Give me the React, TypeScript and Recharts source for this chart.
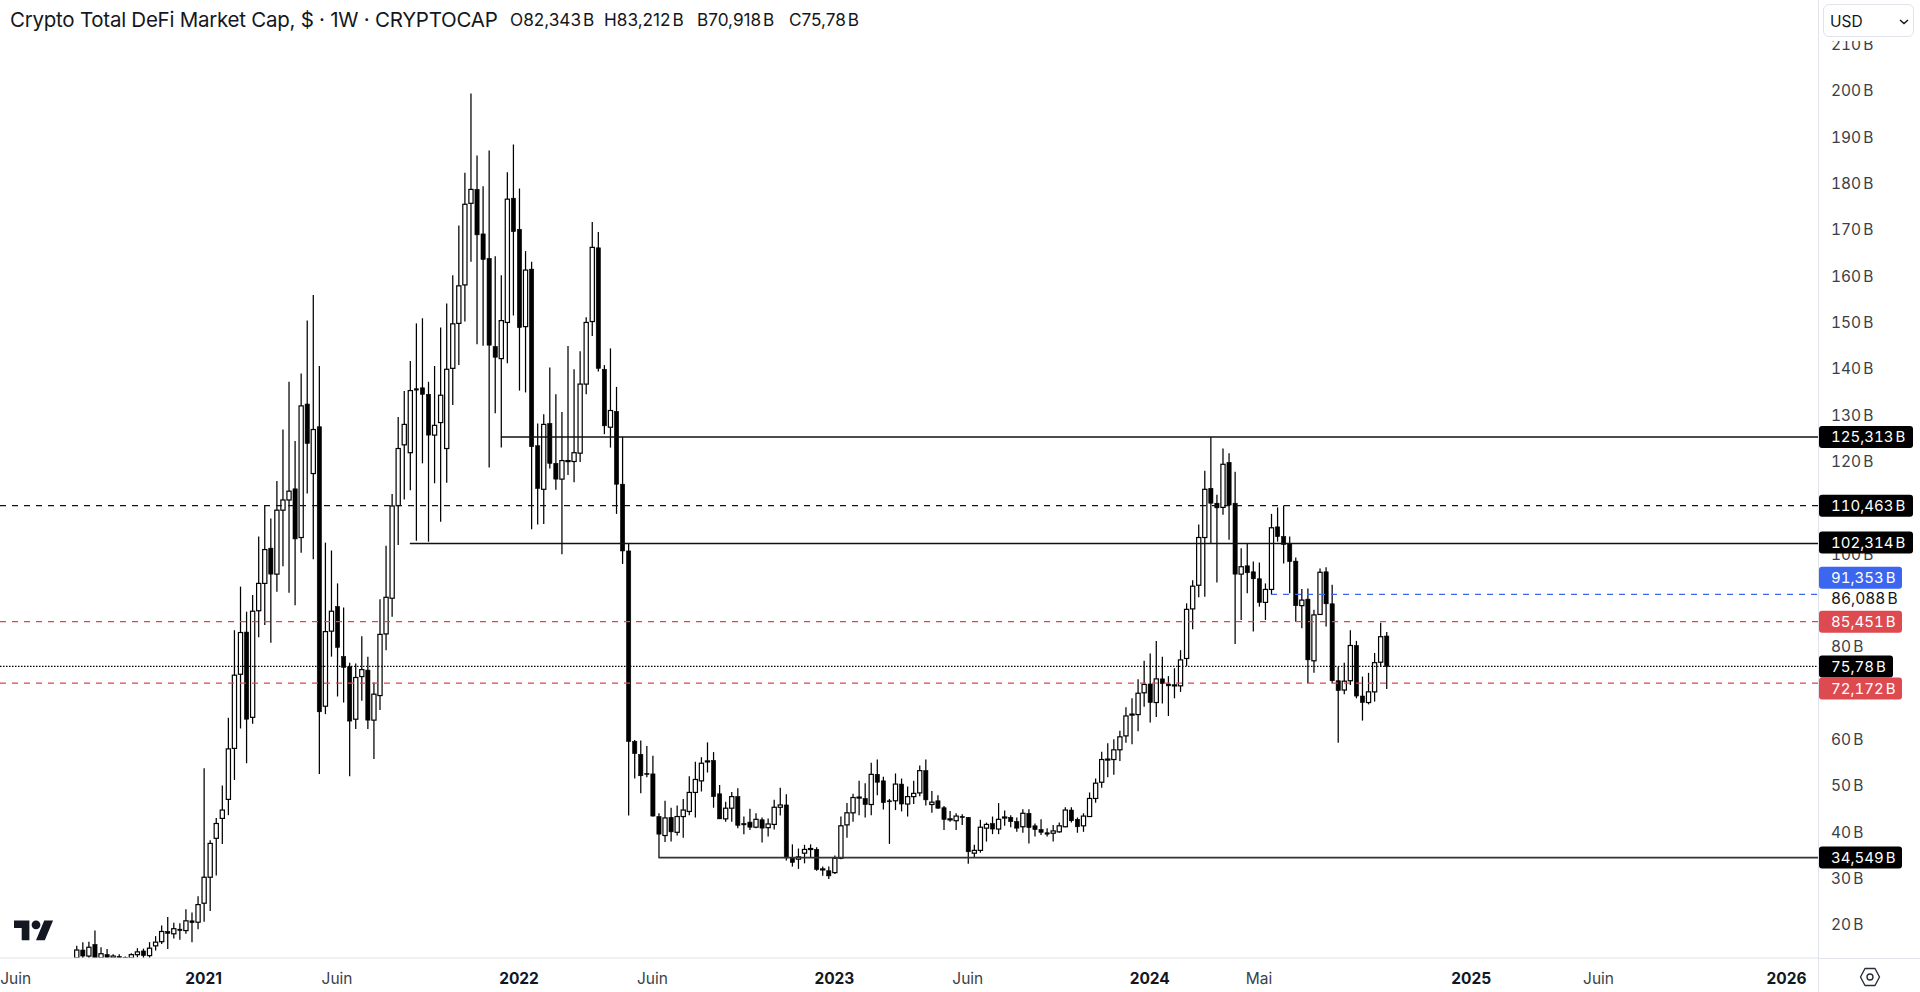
import { Bar, ComposedChart, ReferenceLine, XAxis, YAxis } from "recharts";

// weekly candles in billions of USD
const opens = [
  12.9,14.6,13.3,15.8,12.9,13.6,12.9,13.2,13.0,12.9,
  13.6,14.4,13.4,15.5,16.4,18.6,18.1,19.1,18.8,20.9,
  20.6,24.7,30.3,38.7,43.0,47.1,58.1,74.1,83.2,64.8,
  87.8,93.7,101.3,95.7,109.5,111.7,114.1,103.6,132.4,117.4,
  127.5,67.2,83.4,88.7,77.9,75.7,64.4,73.6,75.0,64.2,
  69.5,82.8,90.5,110.5,123.6,121.9,135.7,135.9,134.5,125.7,
  128.4,122.8,140.1,149.8,158.1,175.7,178.7,169.1,163.8,144.8,
  142.2,150.0,176.8,170.1,149.1,161.5,123.4,114.0,128.2,119.6,
  116.2,120.0,120.0,121.8,136.7,150.2,166.1,139.9,127.4,130.8,
  115.1,100.7,59.6,56.8,52.7,52.6,43.4,39.3,43.2,40.0,
  43.4,44.5,48.6,51.1,55.3,55.5,48.3,42.9,45.2,47.7,
  41.9,42.2,41.1,42.7,41.0,41.7,45.4,45.9,34.5,34.2,
  35.5,36.4,36.3,32.0,31.7,31.3,34.4,41.6,44.2,47.5,
  47.3,46.0,52.5,51.1,46.8,46.8,50.4,46.1,47.7,48.5,
  53.3,46.0,46.8,45.3,42.8,42.5,43.4,43.2,35.5,36.1,
  40.9,41.9,40.7,43.2,43.2,42.3,41.2,44.1,41.4,40.6,
  39.9,39.8,40.1,41.2,44.8,42.8,41.4,43.4,47.3,50.8,
  55.7,55.7,57.8,60.8,65.4,65.4,70.1,72.0,68.0,73.1,
  72.0,71.8,71.6,77.5,88.2,93.3,103.6,114.2,111.0,110.1,
  119.8,111.0,95.7,97.5,96.2,94.7,89.6,92.4,105.9,103.8,
  102.2,98.5,88.9,90.3,77.0,87.0,96.2,89.3,72.7,70.7,
  72.7,80.3,69.4,68.0,70.3,76.7,82.343,
];
const highs = [
  15.5,16.3,16.4,18.8,15.2,14.8,13.7,13.7,13.2,13.9,
  15.0,14.9,16.3,17.6,19.9,21.7,20.5,20.4,23.4,22.7,
  26.2,53.8,38.3,43.1,50.1,64.7,83.6,93.0,87.6,91.2,
  103.8,110.5,107.7,115.8,126.9,137.2,124.4,139.0,150.4,155.9,
  140.6,102.5,100.8,93.7,88.5,76.6,76.4,82.3,77.9,72.3,
  90.3,101.8,113.0,129.6,135.2,141.7,149.8,150.9,137.2,140.6,
  148.9,154.1,160.2,170.9,182.3,199.4,186.0,179.4,187.1,164.3,
  160.2,182.4,188.4,178.9,165.4,163.1,128.2,130.2,140.3,134.5,
  130.7,144.9,139.9,143.8,151.1,171.7,169.5,140.8,144.4,136.1,
  125.3,102.3,59.9,59.8,58.6,56.5,44.1,46.8,45.3,45.8,
  47.2,52.1,55.2,56.2,59.4,57.3,50.2,46.6,48.7,49.5,
  43.4,45.1,44.1,43.2,43.0,47.0,49.6,48.2,37.4,36.5,
  37.3,37.4,36.8,32.6,32.6,35.0,43.4,46.3,48.3,51.1,
  50.6,55.0,55.7,52.0,47.2,52.7,51.6,49.9,51.1,54.4,
  55.7,48.9,48.0,45.7,44.6,44.1,43.9,43.3,37.3,42.7,
  42.1,43.4,46.3,44.7,43.7,43.2,45.0,45.0,41.9,42.8,
  40.9,41.6,42.1,45.4,45.4,43.2,44.1,48.6,51.6,57.4,
  59.2,60.1,61.9,67.0,68.9,73.0,77.0,78.6,81.3,77.9,
  73.7,75.4,79.3,89.4,94.4,106.4,118.0,125.3,112.8,122.8,
  121.8,117.8,101.3,102.2,98.4,98.2,93.7,108.7,110.1,110.5,
  103.8,99.3,92.5,92.6,88.0,96.9,97.2,93.4,75.7,76.6,
  83.6,81.3,73.6,74.4,78.7,85.2,83.212,
];
const lows = [
  12.9,12.9,12.9,12.9,12.9,12.9,12.9,12.9,12.9,12.9,
  13.0,12.9,12.9,14.5,15.9,14.8,17.1,16.8,18.1,16.3,
  19.1,20.7,23.0,30.7,37.5,43.7,51.3,62.4,54.9,63.4,
  82.1,84.7,80.9,91.9,97.4,91.7,89.0,100.3,113.1,98.9,
  52.6,65.5,77.9,69.3,68.0,52.1,62.3,68.4,62.3,55.8,
  66.4,79.3,86.5,102.0,111.8,113.8,102.9,119.6,102.7,115.3,
  107.0,115.4,132.2,140.8,150.2,163.1,145.3,145.0,118.7,130.4,
  123.0,141.2,151.5,135.3,134.9,105.4,106.4,106.5,118.5,113.9,
  100.0,117.1,115.5,119.9,134.5,147.1,139.4,125.9,123.0,108.7,
  97.9,43.6,51.6,48.4,51.9,43.4,34.5,37.9,38.0,39.3,
  38.8,43.7,43.2,48.8,52.9,45.3,42.9,42.3,42.3,40.9,
  39.6,40.5,40.9,37.8,39.1,40.6,43.6,33.9,32.6,32.1,
  33.3,34.5,31.7,30.6,29.9,31.0,34.2,38.8,42.3,43.7,
  43.2,43.7,48.0,44.9,37.5,44.8,44.5,43.4,46.1,47.8,
  45.8,44.2,45.1,40.5,42.3,40.5,41.6,33.2,34.6,35.6,
  38.0,39.6,39.6,41.4,41.1,40.1,39.9,37.6,39.1,39.4,
  39.1,38.0,39.9,41.1,42.1,39.9,40.1,43.4,46.4,49.6,
  51.9,52.4,55.4,59.3,59.0,61.8,67.1,63.7,64.9,67.8,
  65.1,68.9,70.3,75.9,83.8,90.7,90.8,102.2,93.9,108.5,
  103.1,80.6,85.8,91.6,83.3,88.7,85.8,91.2,102.7,98.0,
  91.6,85.4,84.0,72.1,74.4,86.9,84.4,72.1,59.3,69.8,
  71.8,68.9,64.1,67.6,68.2,75.7,70.918,
];
const closes = [
  14.6,13.3,15.2,12.9,13.8,13.0,13.3,12.9,12.95,13.6,
  14.2,13.4,15.0,16.3,18.6,18.2,19.2,18.8,20.9,20.5,
  24.4,30.3,37.6,41.9,44.8,58.0,73.9,83.1,64.4,87.7,
  93.7,101.0,95.7,109.5,111.7,113.6,103.3,132.0,123.9,126.9,
  66.0,83.3,87.7,79.9,75.6,64.0,73.4,75.1,64.2,69.8,
  82.7,90.7,110.4,122.8,128.0,135.3,135.4,134.5,125.7,127.8,
  134.3,139.9,149.7,157.9,175.5,178.7,168.9,163.6,145.1,142.5,
  150.4,176.6,169.6,148.9,161.3,123.2,114.2,128.0,119.6,116.2,
  120.2,120.2,121.9,136.7,150.0,166.2,140.1,127.7,131.0,115.1,
  100.7,59.6,57.0,52.2,52.5,43.5,39.6,43.1,40.1,43.4,
  44.8,48.6,51.4,54.9,55.4,47.7,42.9,45.2,47.7,41.5,
  41.6,41.1,42.8,40.9,41.8,45.4,45.9,34.5,33.5,34.7,
  36.3,36.5,32.0,32.1,30.6,34.4,41.4,44.2,47.5,47.6,
  46.0,52.5,50.8,46.4,46.7,50.4,46.1,47.7,48.4,53.3,
  47.0,46.5,45.2,42.8,42.9,43.5,43.3,35.8,36.1,41.1,
  41.7,40.7,42.8,43.3,42.3,40.9,44.1,41.0,40.6,40.0,
  39.6,40.3,41.4,44.8,42.5,41.2,43.5,47.3,50.6,55.7,
  55.8,57.8,60.6,65.1,65.5,70.0,71.9,68.0,73.1,72.1,
  71.6,71.8,77.2,88.1,93.1,103.6,114.0,111.0,110.0,119.4,
  110.6,95.7,97.3,96.0,94.7,89.6,92.4,105.7,103.8,102.1,
  98.4,88.9,90.1,77.2,86.9,96.1,89.3,72.7,70.6,72.6,
  80.3,69.4,68.0,70.3,76.6,82.2,75.78,
];

const weekTicks = [-10, 21, 43, 73, 95, 125, 147, 177, 195, 230, 251, 282];
const weekLabels = ["Juin", "2021", "Juin", "2022", "Juin", "2023", "Juin", "2024", "Mai", "2025", "Juin", "2026"];
const priceTicks = [20, 30, 40, 50, 60, 70, 80, 90, 100, 110, 120, 130, 140, 150, 160, 170, 180, 190, 200, 210];
const levels = [125.313, 110.463, 102.314, 91.353, 85.451, 75.78, 72.172, 34.549];
const levelLabels = ["125,313 B", "110,463 B", "102,314 B", "91,353 B", "85,451 B", "75,78 B", "72,172 B", "34,549 B"];
const levelStarts = [70, null, 55, 197, null, null, null, 96];
const hiddenTicks = [70, 90, 110]; // covered by tags in the picture
const quotedPrice = 86.088;
const quotedLabel = "86,088 B";
const ohlcLabels = ["O82,343 B", "H83,212 B", "B70,918 B", "C75,78 B"];

const WEEK_MIN = -12.58;
const WEEK_MAX = 287.27;
const PRICE_MIN = 12.88;
const PRICE_MAX = 219.57;
const PLOT_W = 1818.5;
const FONT = "Inter, 'Noto Sans', sans-serif";
const INK = "#131722";
const EDGE = "#e0e3eb";

const levelStyle: Record<number, { line: string; dash?: string; fill: string; w: number; dy: number; sw: number }> = {
  125.313: { line: "#111111", fill: "#000000", w: 94, dy: 0, sw: 1.5 },
  110.463: { line: "#111111", dash: "6 6", fill: "#000000", w: 94, dy: 0, sw: 1.3 },
  102.314: { line: "#111111", fill: "#000000", w: 94, dy: -1, sw: 1.5 },
  91.353: { line: "#3a66f0", dash: "6 6", fill: "#3a66f0", w: 83, dy: -16.6, sw: 1.3 },
  85.451: { line: "#d9484f", dash: "6 6", fill: "#dd4a50", w: 83, dy: 0, sw: 1.3 },
  75.78: { line: "#000000", dash: "1.5 1.5", fill: "#000000", w: 74, dy: 0, sw: 1.2 },
  72.172: { line: "#d9484f", dash: "6 6", fill: "#dd4a50", w: 83, dy: 5.3, sw: 1.3 },
  34.549: { line: "#333333", fill: "#000000", w: 83, dy: 0, sw: 1.7 },
};

const candles = opens.map((open, i) => ({
  week: i,
  open,
  high: highs[i],
  low: lows[i],
  close: closes[i],
}));

function Candle(props: any) {
  const { x, y, width, height, payload } = props;
  const top = Math.min(y, y + height);
  const span = Math.abs(height);
  const perUnit = span / (payload.high - payload.low);
  const cx = x + width / 2;
  const yOf = (v: number) => top + (payload.high - v) * perUnit;
  const up = payload.close >= payload.open;
  const bodyTop = yOf(Math.max(payload.open, payload.close));
  const bodyH = Math.max(1, yOf(Math.min(payload.open, payload.close)) - bodyTop);
  return (
    <g>
      <line x1={cx} x2={cx} y1={top} y2={top + span} stroke="#000000" strokeWidth={1.25} />
      <rect
        x={cx - 2.1}
        y={bodyTop}
        width={4.2}
        height={bodyH}
        fill={up ? "#ffffff" : "#000000"}
        stroke="#000000"
        strokeWidth={up ? 1.2 : 0.6}
      />
    </g>
  );
}

function PriceTick(props: any) {
  const { y, payload } = props;
  const value = payload.value;
  const tagAt = levels.indexOf(value);
  const textX = PLOT_W + 12.5;
  const textProps = {
    x: textX,
    fontFamily: FONT,
    fontSize: 15.5,
    dominantBaseline: "central" as const,
    style: { wordSpacing: "-2px", fontFeatureSettings: "'tnum'" },
  };
  if (tagAt >= 0) {
    const s = levelStyle[value];
    const cy = y + s.dy;
    return (
      <g>
        <rect x={PLOT_W + 0.5} y={cy - 11} width={s.w} height={22} rx={3} fill={s.fill} />
        <text {...textProps} fontSize={15} y={cy} fill="#ffffff">{levelLabels[tagAt]}</text>
      </g>
    );
  }
  if (value === quotedPrice) {
    return <text {...textProps} y={y - 19.7} fill={INK}>{quotedLabel}</text>;
  }
  return <text {...textProps} y={y} fill="#3b3f48">{value} B</text>;
}

function WeekTick(props: any) {
  const { x, payload } = props;
  const label = weekLabels[weekTicks.indexOf(payload.value)];
  const isYear = /^\d+$/.test(label);
  return (
    <text
      x={x}
      y={978}
      textAnchor="middle"
      dominantBaseline="central"
      fontFamily={FONT}
      fontSize={15.5}
      fontWeight={isYear ? 700 : 400}
      fill={isYear ? INK : "#3b3f48"}
    >
      {label}
    </text>
  );
}

function Overlay() {
  const ohlcX = [510, 604, 697, 789];
  return (
    <>
      <div style={{ position: "absolute", left: 10, top: 8, fontFamily: FONT, fontSize: 20.5, letterSpacing: -0.25, color: INK, whiteSpace: "nowrap", lineHeight: "24px" }}>
        Crypto Total DeFi Market Cap, $ · 1W · CRYPTOCAP
      </div>
      {ohlcLabels.map((t, i) => (
        <div key={t} style={{ position: "absolute", left: ohlcX[i], top: 10, fontFamily: FONT, fontSize: 17.2, color: INK, whiteSpace: "nowrap", lineHeight: "20px", wordSpacing: -3 }}>
          {t}
        </div>
      ))}
      {/* currency selector sits over the top of the price scale */}
      <div style={{ position: "absolute", left: 1819.5, top: 0, width: 100.5, height: 41, background: "#fff" }} />
      <div style={{ position: "absolute", left: 1823, top: 4, width: 91, height: 33, boxSizing: "border-box", border: `1px solid ${EDGE}`, borderRadius: 6, fontFamily: FONT, fontSize: 15.5, color: INK, lineHeight: "33px", paddingLeft: 6 }}>
        USD
        <svg width="10" height="6" viewBox="0 0 10 6" style={{ position: "absolute", right: 4, top: 14 }}>
          <path d="M1 1l4 3.5L9 1" fill="none" stroke={INK} strokeWidth="1.5" />
        </svg>
      </div>
      {/* axis rules run on past the plot area */}
      <div style={{ position: "absolute", left: 1818, top: 958, width: 1, height: 34, background: EDGE }} />
      <div style={{ position: "absolute", left: 1818, top: 958, width: 102, height: 1, background: EDGE }} />
      <svg width="22" height="22" viewBox="0 0 22 22" style={{ position: "absolute", left: 1859, top: 966 }}>
        <path d="M6 2.5h10L20.5 11 16 19.5H6L1.5 11z" fill="none" stroke="#2a2e39" strokeWidth="1.4" strokeLinejoin="round" />
        <circle cx="11" cy="11" r="3" fill="none" stroke="#2a2e39" strokeWidth="1.4" />
      </svg>
      <svg width="39.6" height="30.8" viewBox="0 0 36 28" style={{ position: "absolute", left: 14, top: 915.6 }}>
        <path d="M14 22H7V11H0V4h14v18zM28 22h-8l7.5-18h8L28 22z" fill={INK} />
        <circle cx="20" cy="8" r="4" fill={INK} />
      </svg>
    </>
  );
}

export default function App() {
  const yTicks = [...priceTicks.filter((t) => !hiddenTicks.includes(t)), quotedPrice, ...levels];
  return (
    <div style={{ position: "absolute", left: 0, top: 0, width: 1920, height: 992, background: "#fff", overflow: "hidden" }}>
      <ComposedChart width={1920} height={992} data={candles} margin={{ top: 0, right: 0, bottom: 0, left: 0 }}>
        <XAxis
          type="number"
          dataKey="week"
          domain={[WEEK_MIN, WEEK_MAX]}
          ticks={weekTicks}
          interval={0}
          height={34}
          tick={<WeekTick />}
          tickLine={false}
          axisLine={{ stroke: EDGE }}
          allowDataOverflow
        />
        <YAxis
          orientation="right"
          type="number"
          domain={[PRICE_MIN, PRICE_MAX]}
          ticks={yTicks}
          interval={0}
          width={101.5}
          tick={<PriceTick />}
          tickLine={false}
          axisLine={{ stroke: EDGE }}
          allowDataOverflow
        />
        <Bar
          dataKey={(d: any) => [d.low, d.high]}
          barSize={5}
          shape={<Candle />}
          isAnimationActive={false}
        />
        {levels.map((price, i) => {
          const s = levelStyle[price];
          return (
            <ReferenceLine
              key={price}
              segment={[
                { x: levelStarts[i] ?? WEEK_MIN, y: price },
                { x: WEEK_MAX, y: price },
              ]}
              stroke={s.line}
              strokeWidth={s.sw}
              strokeDasharray={s.dash}
            />
          );
        })}
      </ComposedChart>
      <Overlay />
    </div>
  );
}
